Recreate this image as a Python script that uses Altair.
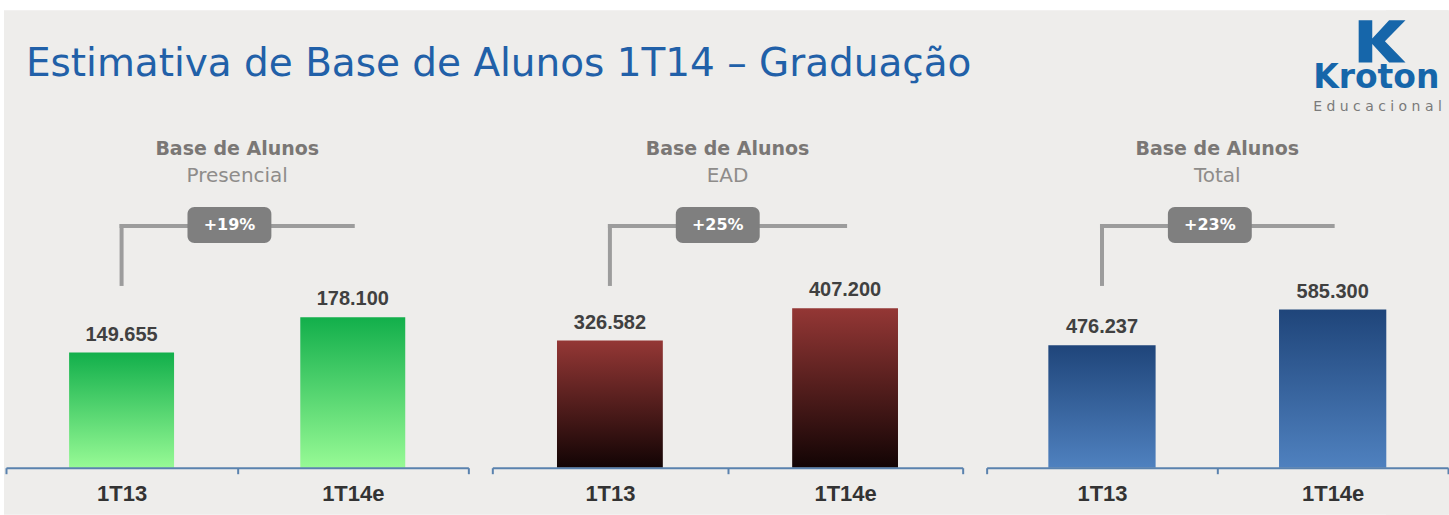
import altair as alt
import pandas as pd

# ---------------- data ----------------
periods = ["1T13", "1T14e"]
segments = ["Presencial", "EAD", "Total"]
heading = "Base de Alunos"
presencial = [149655, 178100]
ead = [326582, 407200]
total = [476237, 585300]
growth = ["+19%", "+25%", "+23%"]
title_text = "Estimativa de Base de Alunos 1T14 – Graduação"
logo_name = "Kroton"
logo_sub = "E d u c a c i o n a l"

# per-panel y scale domains (the slide's bars are not drawn from zero)
y_domains = [[57000, 433100], [9900, 1174400], [100300, 1534100]]

# gradients top -> bottom
grad_stops = [
    ["#12AF4B", "#97FA95"],
    ["#943735", "#120404"],
    ["#1F457A", "#4F81BF"],
]

BG = "#EEEDEB"
H = 468
widths = [463, 471, 462]
BAR_FRAC = [0.454, 0.45, 0.465]
K_PATH = ("M -1 -0.9 L -0.42 -0.9 L -0.42 -0.12 L 0.3 -0.9 L 1 -0.9 "
          "L 0.12 0 L 1 0.9 L 0.3 0.9 L -0.42 0.12 L -0.42 0.9 L -1 0.9 Z")


def fmt(v):
    return f"{v:,}".replace(",", ".")


def panel(values, subtitle, g, dom, stops, W, frac, pre=None, extra=None):
    df = pd.DataFrame({"period": periods, "value": values,
                       "label": [fmt(v) for v in values]})
    xs = alt.Scale(domain=periods, paddingInner=0, paddingOuter=0)
    x = alt.X("period:N", sort=periods, scale=xs,
              axis=alt.Axis(title=None, labelAngle=0, labelFont="Liberation Sans",
                            labelFontWeight="bold", labelFontSize=22,
                            labelColor="#333333", labelPadding=10,
                            domainColor="#5A82AE", domainWidth=2,
                            tickColor="#5A82AE", tickWidth=2, tickSize=6,
                            tickBand="extent", zindex=1))
    ys = alt.Scale(domain=dom, zero=False, nice=False)
    y = alt.Y("value:Q", scale=ys, axis=None)

    grad = alt.LinearGradient(
        gradient="linear",
        stops=[alt.GradientStop(color=stops[0], offset=0),
               alt.GradientStop(color=stops[1], offset=1)],
        x1=0, x2=0, y1=0, y2=1)

    bars = alt.Chart(df).mark_bar(color=grad,
                                  width=alt.RelativeBandSize(frac)).encode(
        x=x, y=y, y2=alt.datum(dom[0]))
    labels = alt.Chart(df).mark_text(
        font="Liberation Sans", fontWeight="bold", fontSize=20,
        color="#404040", baseline="alphabetic", dy=-12).encode(
        x=alt.X("period:N", sort=periods), y=y, text="label:N")

    br = pd.DataFrame({"period": [periods[0]], "period_end": [periods[1]],
                       "g": [g], "h": [heading], "s": [subtitle]})
    vert = alt.Chart(br).mark_rule(color="#9C9C9C", strokeWidth=4,
                                   strokeCap="square").encode(
        x=alt.X("period:N", sort=periods), y=alt.value(226), y2=alt.value(284))
    horiz = alt.Chart(br).mark_rule(color="#9C9C9C", strokeWidth=4,
                                    strokeCap="square").encode(
        x=alt.X("period:N", sort=periods), x2="period_end:N", y=alt.value(226))
    cx = W / 4 + 108
    badge = alt.Chart(br).mark_rect(color="#7F7F7F", cornerRadius=7).encode(
        x=alt.value(cx - 42), x2=alt.value(cx + 42),
        y=alt.value(207), y2=alt.value(243))
    badge_t = alt.Chart(br).mark_text(color="white", font="DejaVu Sans",
                                      fontWeight="bold", fontSize=16,
                                      baseline="middle").encode(
        x=alt.value(cx), y=alt.value(225), text="g:N")
    head = alt.Chart(br).mark_text(color="#7A7775", font="DejaVu Sans",
                                   fontWeight="bold", fontSize=19,
                                   baseline="middle").encode(
        x=alt.value(W / 2), y=alt.value(149), text="h:N")
    sub = alt.Chart(br).mark_text(color="#8E8C8A", font="DejaVu Sans",
                                  fontSize=20, baseline="middle").encode(
        x=alt.value(W / 2), y=alt.value(176), text="s:N")

    layers = (pre or []) + [bars, labels, vert, horiz, badge, badge_t, head, sub]
    if extra:
        layers += extra
    return alt.layer(*layers).properties(width=W, height=H)


# slide area (grey) over a white page margin
slide_df = pd.DataFrame({"a": [0]})
slide_bg = alt.Chart(slide_df).mark_rect(color=BG).encode(
    x=alt.value(-2), x2=alt.value(1445), y=alt.value(10), y2=alt.value(515))

title_df = pd.DataFrame({"t": [title_text]})
title_layer = alt.Chart(title_df).mark_text(
    font="DejaVu Sans", fontSize=39, color="#2160A8", align="left",
    baseline="alphabetic").encode(x=alt.value(20), y=alt.value(76), text="t:N")

logo_df = pd.DataFrame({"n": [logo_name], "s": [logo_sub]})
logo_k = alt.Chart(logo_df).mark_point(
    shape=K_PATH, filled=True, color="#1666AA", opacity=1, size=2200,
    strokeWidth=0).encode(x=alt.value(396), y=alt.value(41))
logo_n = alt.Chart(logo_df).mark_text(
    font="DejaVu Sans", fontWeight="bold", fontSize=33, color="#1666AA",
    align="left", baseline="alphabetic").encode(
    x=alt.value(327), y=alt.value(88), text="n:N")
logo_s = alt.Chart(logo_df).mark_text(
    font="DejaVu Sans", fontSize=14, color="#7A7A7A",
    align="left", baseline="alphabetic").encode(
    x=alt.value(327), y=alt.value(111), text="s:N")
# right part of the slide area, so the grey reaches the page edge
slide_right = alt.Chart(slide_df).mark_rect(color=BG).encode(
    x=alt.value(400), x2=alt.value(462), y=alt.value(10), y2=alt.value(515))

p1 = panel(presencial, segments[0], growth[0], y_domains[0], grad_stops[0],
           widths[0], BAR_FRAC[0], pre=[slide_bg], extra=[title_layer])
p2 = panel(ead, segments[1], growth[1], y_domains[1], grad_stops[1],
           widths[1], BAR_FRAC[1])
p3 = panel(total, segments[2], growth[2], y_domains[2], grad_stops[2],
           widths[2], BAR_FRAC[2], pre=[slide_right],
           extra=[logo_k, logo_n, logo_s])

chart = alt.hconcat(p1, p2, p3, spacing=24, bounds="flush").properties(
    background="#FFFFFF",
    padding={"left": 4, "top": 0, "right": 0, "bottom": 0},
).configure_view(strokeWidth=0)

chart.save("out.html", embed_options={"renderer": "svg", "actions": False})
